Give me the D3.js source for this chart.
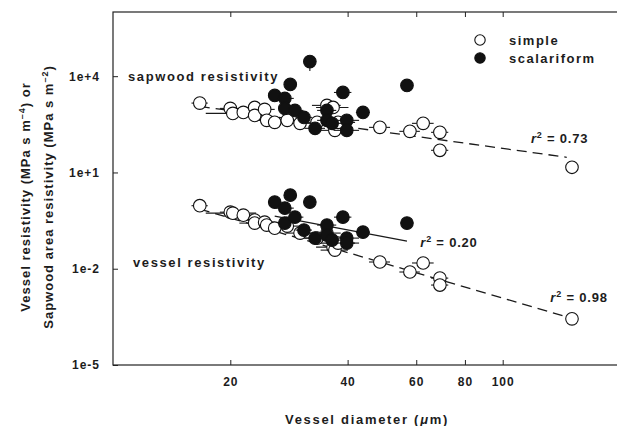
<!DOCTYPE html>
<html>
<head>
<meta charset="utf-8">
<script src="https://cdn.jsdelivr.net/npm/d3@7"></script>
<style>
  body { margin: 0; background: #fff; }
  svg { font-family: "Liberation Sans", Arial, sans-serif; font-weight: bold; fill: #1c1c1c; }
  .tick text { font-size: 12px; letter-spacing: 1px; }
</style>
</head>
<body>
<svg width="617" height="426"></svg>
<script>
// species with simple perforation plates
var simpleDiam = [16.7, 20.0, 20.3, 21.6, 23.1, 23.1, 24.5, 24.8, 26.0, 28.0, 30.2, 33.4, 35.4, 36.7, 37.1, 37.8, 48.4, 57.8, 62.5, 69.0, 69.0, 150.6];
var simpleErr  = [0.8, 1.2, 3.0, 1.5, 1.5, 2.0, 1.5, 2.0, 1.5, 2.0, 2.5, 3.0, 3.0, 3.5, 3.0, 4.0, 3.0, 3.5, 4.0, 3.5, 3.5, 0.5];
var simpleSap  = [1450, 990, 693, 744, 1060, 600, 922, 420, 364, 420, 339, 364, 1230, 1060, 205, 364, 254, 191, 339, 178, 49, 14.5];
var simpleVes  = [0.92, 0.579, 0.539, 0.468, 0.327, 0.264, 0.283, 0.229, 0.184, 0.213, 0.129, 0.090, 0.129, 0.047, 0.038, 0.063, 0.0162, 0.0079, 0.0151, 0.0051, 0.0031, 0.000274];

// species with scalariform plates
var scalDiam = [26.0, 27.6, 27.6, 28.5, 29.3, 30.9, 32.0, 33.0, 35.4, 35.4, 36.5, 38.9, 39.8, 39.8, 43.8, 56.8];
var scalErr  = [1.0, 1.5, 1.0, 1.0, 1.5, 1.5, 0.6, 2.0, 2.0, 2.0, 2.0, 2.0, 3.0, 3.0, 1.8, 2.0];
var scalSap  = [2510, 2030, 990, 5520, 858, 520, 28600, 237, 858, 420, 339, 3110, 420, 205, 744, 5140];
var scalSapLo = [null, null, null, null, null, null, 14500, null, null, null, null, null, null, null, null, null];
var scalVes  = [1.19, 0.773, 0.264, 1.96, 0.405, 0.160, 1.19, 0.090, 0.229, 0.112, 0.078, 0.405, 0.090, 0.063, 0.138, 0.264];

// regression lines [diameter, resistivity]
var fits = [
  {pts: [[16.7, 1143], [146, 29.7]], dash: "10,6", label: "0.73", at: [140, 81]},
  {pts: [[26.0, 0.435], [56.8, 0.073]], dash: null, label: "0.20", at: [72.8, 0.047]},
  {pts: [[16.7, 0.718], [146, 0.000316]], dash: "10,6", label: "0.98", at: [157, 0.00092]}
];

var yTicks = [1e-5, 1e-2, 1e1, 1e4];
var yTickLabels = ["1e-5", "1e-2", "1e+1", "1e+4"];
var xTicks = [20, 40, 60, 80, 100];

var svg = d3.select("svg");
var x = d3.scaleLog().domain([10, 200]).range([113, 620]);
var y = d3.scaleLog().domain([1e-5, 1e6]).range([365, 12]);

// frame
svg.append("rect")
    .attr("x", 113).attr("y", 12)
    .attr("width", 507).attr("height", 353)
    .attr("fill", "none").attr("stroke", "#222").attr("stroke-width", 1.2);

svg.append("g")
    .attr("transform", "translate(0,365)")
    .call(d3.axisBottom(x).tickValues(xTicks).tickFormat(d3.format("d"))
      .tickSizeInner(-5).tickSizeOuter(0).tickPadding(12));
svg.append("g")
    .attr("transform", "translate(0,12)")
    .call(d3.axisTop(x).tickValues(xTicks).tickFormat("")
      .tickSizeInner(-5).tickSizeOuter(0));
svg.append("g")
    .attr("transform", "translate(113,0)")
    .call(d3.axisLeft(y).tickValues(yTicks).tickFormat(function(d, i) { return yTickLabels[i]; })
      .tickSizeInner(-5).tickSizeOuter(0).tickPadding(13));

svg.selectAll(".domain").remove();
svg.selectAll(".tick line").attr("stroke", "#222");
svg.selectAll(".tick text").attr("fill", "#1c1c1c").style("font-family", "inherit");

// fit lines
svg.append("g").selectAll("line")
    .data(fits).enter().append("line")
    .attr("x1", function(d) { return x(d.pts[0][0]); })
    .attr("y1", function(d) { return y(d.pts[0][1]); })
    .attr("x2", function(d) { return x(d.pts[1][0]); })
    .attr("y2", function(d) { return y(d.pts[1][1]); })
    .attr("stroke", "#1a1a1a").attr("stroke-width", 1.3)
    .attr("stroke-dasharray", function(d) { return d.dash; });

function series(diam, err, vals, filled) {
  var pts = diam.map(function(d, i) { return {d: d, e: err[i], v: vals[i]}; });
  var g = svg.append("g");
  g.selectAll("line").data(pts).enter().append("line")
      .attr("x1", function(p) { return x(p.d - p.e); })
      .attr("x2", function(p) { return x(p.d + p.e); })
      .attr("y1", function(p) { return y(p.v); })
      .attr("y2", function(p) { return y(p.v); })
      .attr("stroke", "#1a1a1a").attr("stroke-width", 1.1);
  g.selectAll("circle").data(pts).enter().append("circle")
      .attr("cx", function(p) { return x(p.d); })
      .attr("cy", function(p) { return y(p.v); })
      .attr("r", 6.3)
      .attr("fill", filled ? "#111" : "#fff")
      .attr("stroke", "#111").attr("stroke-width", 1.1);
}

series(simpleDiam, simpleErr, simpleSap, false);
series(simpleDiam, simpleErr, simpleVes, false);

// vertical error bar
svg.append("g").selectAll("line")
    .data(scalDiam.map(function(d, i) { return {d: d, v: scalSap[i], lo: scalSapLo[i]}; })
      .filter(function(p) { return p.lo != null; }))
    .enter().append("line")
    .attr("x1", function(p) { return x(p.d); }).attr("x2", function(p) { return x(p.d); })
    .attr("y1", function(p) { return y(p.v); }).attr("y2", function(p) { return y(p.lo); })
    .attr("stroke", "#1a1a1a").attr("stroke-width", 1.1);

series(scalDiam, scalErr, scalSap, true);
series(scalDiam, scalErr, scalVes, true);

// r² labels
fits.forEach(function(f) {
  var t = svg.append("text")
      .attr("x", x(f.at[0])).attr("y", y(f.at[1]))
      .attr("text-anchor", "middle")
      .style("font-size", "13px").style("letter-spacing", "0.8px");
  t.append("tspan").style("font-style", "italic").text("r");
  t.append("tspan").attr("dy", -5).style("font-size", "9px").text("2");
  t.append("tspan").attr("dy", 5).text(" = " + f.label);
});

// group labels
svg.append("text").attr("x", 128).attr("y", 81)
    .style("font-size", "13px").style("letter-spacing", "1.6px")
    .text("sapwood resistivity");
svg.append("text").attr("x", 133).attr("y", 267)
    .style("font-size", "13px").style("letter-spacing", "1.6px")
    .text("vessel resistivity");

// legend
var legend = [{name: "simple", filled: false}, {name: "scalariform", filled: true}];
var lg = svg.append("g").selectAll("g").data(legend).enter().append("g")
    .attr("transform", function(d, i) { return "translate(480," + (40 + i * 18) + ")"; });
lg.append("circle").attr("r", 5.2)
    .attr("fill", function(d) { return d.filled ? "#111" : "#fff"; })
    .attr("stroke", "#111").attr("stroke-width", 1.1);
lg.append("text").attr("x", 29).attr("y", 5)
    .style("font-size", "13px").style("letter-spacing", "1.5px")
    .text(function(d) { return d.name; });

// axis titles
var xt = svg.append("text").attr("x", 367).attr("y", 424)
    .attr("text-anchor", "middle")
    .style("font-size", "13px").style("letter-spacing", "1.7px");
xt.append("tspan").text("Vessel diameter (");
xt.append("tspan").style("font-style", "italic").text("\u03bc");
xt.append("tspan").text("m)");

var yt = svg.append("text")
    .attr("transform", "translate(0,197) rotate(-90)")
    .attr("text-anchor", "middle")
    .style("font-size", "13px").style("letter-spacing", "1px");
yt.append("tspan").attr("x", 0).attr("y", 30).text("Vessel resistivity (MPa s m");
yt.append("tspan").attr("dy", -5).style("font-size", "9px").text("\u20134");
yt.append("tspan").attr("dy", 5).text(") or");
yt.append("tspan").attr("x", 0).attr("y", 53).text("Sapwood area resistivity (MPa s m");
yt.append("tspan").attr("dy", -5).style("font-size", "9px").text("\u20132");
yt.append("tspan").attr("dy", 5).text(")");
</script>
</body>
</html>
